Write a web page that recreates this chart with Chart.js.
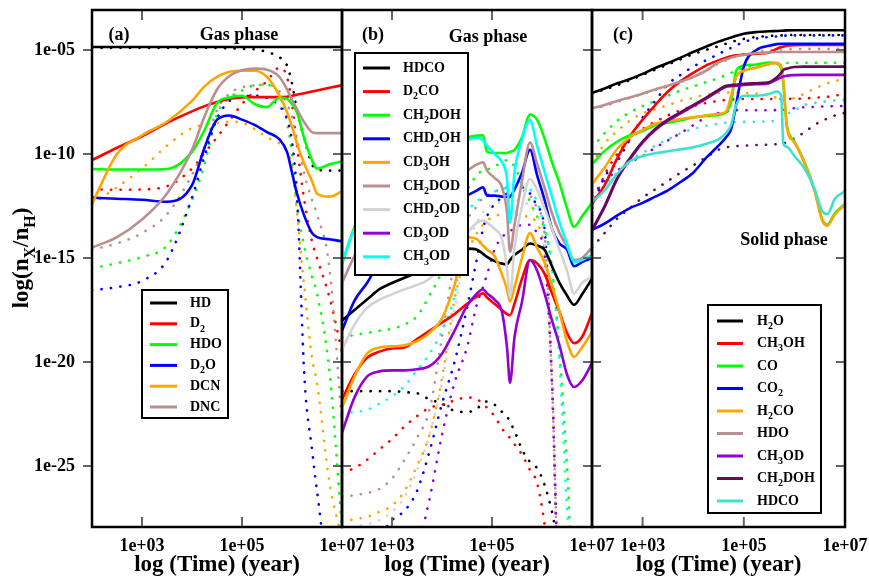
<!DOCTYPE html>
<html>
<head>
<meta charset="utf-8">
<script src="https://cdn.jsdelivr.net/npm/chart.js@4.4.0/dist/chart.umd.min.js"></script>
<style>
html, body { margin: 0; padding: 0; background: #fff; }
#wrap { position: relative; width: 869px; height: 579px; overflow: hidden; }
canvas { position: absolute; top: 0; }
</style>
</head>
<body>
<div id="wrap">
<canvas id="panelA" width="380" height="579" style="left:0px"></canvas>
<canvas id="panelB" width="330" height="579" style="left:300px"></canvas>
<canvas id="panelC" width="319" height="579" style="left:550px"></canvas>
</div>
<script>
var FONT = '"Liberation Serif", "Times New Roman", serif';

// log10(time) grids and log10(n_X/n_H) values
var xTicks = [3, 5, 7];
var yTicks = [-25, -20, -15, -10, -5];

// (a) gas phase
var timeA = [2, 2.5, 3, 3.5, 4, 4.25, 4.5, 4.75, 5, 5.25, 5.5, 5.75, 5.9, 6, 6.1, 6.25, 6.4, 6.5, 6.75, 7];
var namesA = ['HD', 'D_2', 'HDO', 'D_2O', 'DCN', 'DNC'];
var hdA = [-4.86, -4.86, -4.86, -4.86, -4.86, -4.86, -4.86, -4.86, -4.86, -4.86, -4.86, -4.86, -4.86, -4.86, -4.86, -4.86, -4.86, -4.86, -4.86, -4.86];
var hdA_dot = [-4.9, -4.9, -4.9, -4.9, -4.9, -4.9, -4.9, -4.92, -4.95, -4.97, -5.1, -5.35, -5.75, -6.6, -7.9, -9.3, -10.5, -10.75, -10.8, -10.8];
var d2A = [-10.3, -9.7, -9.15, -8.5, -7.95, -7.7, -7.5, -7.35, -7.28, -7.27, -7.27, -7.27, -7.25, -7.2, -7.15, -7.08, -7.0, -6.95, -6.82, -6.7];
var d2A_dot = [-11.7, -11.72, -11.7, -11.55, -10.7, -9.95, -9.2, -8.4, -7.6, -7.0, -6.5, -5.85, -6.3, -7.6, -9.6, -12.3, -14.2, -15.0, -16.9, -19.5];
var hdoA = [-10.72, -10.75, -10.75, -10.72, -9.9, -8.85, -7.55, -7.28, -7.2, -7.6, -7.75, -7.3, -7.35, -7.6, -8.0, -9.3, -10.3, -10.7, -10.5, -10.35];
var hdoA_dot = [-15.5, -15.25, -14.95, -14.4, -12.2, -10.5, -8.1, -7.3, -6.95, -6.7, -6.68, -7.2, -8.5, -10.0, -12.5, -14.5, -15.9, -16.7, -20.5, -28];
var d2oA = [-12.1, -12.15, -12.2, -12.3, -11.5, -9.7, -8.35, -8.15, -8.35, -8.6, -8.95, -9.3, -9.9, -10.9, -11.9, -13.0, -13.8, -14.0, -14.1, -14.2];
var d2oA_dot = [-16.55, -16.4, -16.1, -15.1, -12.1, -10.1, -8.3, -7.45, -7.25, -7.2, -7.3, -7.7, -8.3, -9.4, -12.0, -20.8, -24.2, -26.2, -30, -30];
var dcnA = [-12.4, -10.0, -9.1, -8.45, -7.45, -6.75, -6.3, -6.05, -6.0, -6.0, -6.3, -7.2, -8.0, -8.7, -9.5, -10.5, -11.3, -11.9, -12.05, -11.8];
var dcnA_dot = [-12.4, -11.6, -10.7, -9.6, -8.75, -8.6, -8.5, -8.45, -8.5, -8.8, -9.2, -9.5, -9.9, -10.6, -12.8, -16.5, -19.8, -21.0, -25.8, -28.5];
var dncA = [-14.5, -14.0, -13.15, -11.9, -9.8, -8.2, -6.9, -6.25, -5.98, -5.9, -5.95, -6.3, -6.9, -7.4, -7.85, -8.5, -8.95, -9.0, -9.0, -9.0];
var dncA_dot = [-14.6, -14.3, -13.8, -12.9, -11.0, -9.7, -7.9, -7.1, -6.8, -6.7, -6.65, -7.0, -7.6, -8.2, -9.3, -11.0, -12.2, -12.9, -15.5, -23];

// (b) gas phase
var timeB = [2, 2.25, 2.5, 2.75, 3, 3.25, 3.5, 3.75, 4, 4.25, 4.5, 4.7, 4.82, 4.9, 5.05, 5.2, 5.3, 5.36, 5.45, 5.6, 5.76, 5.9, 6.05, 6.2, 6.35, 6.5, 6.64, 6.8, 7];
var namesB = ['HDCO', 'D_2CO', 'CH_2DOH', 'CHD_2OH', 'CD_3OH', 'CH_2DOD', 'CHD_2OD', 'CD_3OD', 'CH_3OD'];
var hdcoB = [-18.0, -17.5, -17.0, -16.5, -16.2, -15.95, -15.7, -15.4, -15.05, -14.8, -14.55, -14.6, -14.8, -14.95, -15.15, -15.27, -15.3, -15.1, -14.85, -14.6, -14.3, -14.4, -14.6, -15.4, -16.2, -16.8, -17.25, -16.75, -16.0];
var hdcoB_dot = [-21.4, -21.4, -21.4, -21.4, -21.4, -21.45, -21.5, -21.8, -22.0, -22.35, -22.4, -22.25, -21.95, -21.9, -22.05, -22.4, -22.6, -22.9, -23.3, -24.2, -24.8, -25.1, -25.9, -27.2, -29, -30, -30, -30, -30];
var d2coB = [-21.8, -20.6, -19.8, -19.5, -19.35, -19.3, -18.9, -18.5, -18.1, -17.7, -17.2, -16.85, -16.7, -16.9, -17.2, -17.5, -17.7, -17.75, -17.2, -16.0, -15.1, -15.25, -15.75, -16.7, -17.6, -18.6, -19.1, -18.8, -17.65];
var d2coB_dot = [-25.3, -25.1, -24.7, -24.2, -23.7, -23.1, -22.6, -22.2, -22.05, -21.85, -21.7, -21.8, -22.0, -22.2, -22.6, -23.2, -23.5, -23.65, -23.95, -24.45, -25.2, -25.8, -27.8, -31, -31, -31, -31, -31, -31];
var ch2dohB = [-15.3, -13.5, -12.3, -11.5, -10.9, -10.4, -10.0, -9.7, -9.5, -9.35, -9.2, -9.12, -9.1, -9.9, -9.95, -9.95, -9.95, -9.9, -9.8, -9.2, -8.1, -8.35, -9.25, -10.4, -11.4, -12.6, -13.5, -13.0, -12.35];
var ch2dohB_dot = [-18.8, -18.7, -18.6, -18.5, -18.4, -18.2, -17.8, -16.8, -15.6, -13.5, -11.8, -11.0, -10.8, -10.75, -10.6, -10.4, -10.3, -10.35, -10.6, -11.4, -12.3, -13.0, -13.6, -15.5, -19.5, -25, -31, -31, -31];
var chd2ohB = [-18.5, -17.05, -16.2, -15.2, -14.8, -14.2, -13.7, -13.2, -12.8, -12.4, -12.0, -11.75, -11.6, -12.0, -12.0, -12.05, -12.07, -12.05, -11.7, -10.9, -9.8, -11.0, -12.2, -13.6, -14.3, -14.6, -15.4, -15.2, -15.0];
var chd2ohB_dot = [-31, -31, -30, -28.5, -27.6, -27.15, -26.2, -24.3, -22.0, -20.0, -17.4, -15.0, -13.6, -13.0, -12.4, -12.1, -11.9, -11.8, -11.6, -11.6, -11.9, -12.5, -13.6, -21, -31, -31, -31, -31, -31];
var cd3ohB = [-22.2, -20.7, -19.6, -19.3, -19.25, -19.2, -19.0, -18.6, -17.9, -16.3, -14.0, -14.1, -14.4, -14.6, -14.9, -15.8, -16.5, -17.1, -16.4, -15.0, -13.8, -14.5, -15.2, -16.3, -17.6, -19.0, -19.75, -19.3, -18.55];
var cd3ohB_dot = [-27.7, -27.55, -27.45, -27.2, -26.9, -26.2, -25.0, -23.5, -20.8, -17.0, -14.8, -13.8, -13.4, -13.2, -13.0, -12.9, -12.9, -12.9, -12.9, -13.0, -13.0, -13.4, -14.6, -21, -31, -31, -31, -31, -31];
var ch2dodB = [-16.2, -14.9, -13.9, -13.2, -12.7, -12.3, -11.9, -11.6, -11.4, -11.1, -10.8, -10.5, -10.4, -10.8, -11.15, -11.6, -12.8, -14.7, -13.4, -11.3, -9.45, -10.45, -11.6, -12.85, -13.8, -14.45, -15.1, -15.0, -14.5];
var ch2dodB_dot = [-26.5, -26.4, -26.3, -26.1, -25.6, -24.7, -23.65, -22.3, -18.8, -15.2, -13.2, -12.5, -12.1, -12.0, -11.8, -11.7, -11.6, -11.6, -11.6, -11.7, -12.0, -12.6, -13.8, -21, -31, -31, -31, -31, -31];
var chd2odB = [-19.4, -18.2, -17.4, -17.0, -16.75, -16.5, -16.3, -16.0, -15.3, -14.4, -13.8, -13.3, -13.2, -13.3, -13.6, -14.1, -15.5, -16.9, -14.5, -12.5, -11.2, -11.7, -12.6, -13.6, -14.6, -15.6, -16.7, -16.2, -15.9];
var chd2odB_dot = [-28, -27.9, -27.8, -27.6, -27.2, -26.5, -25.2, -23.5, -21.0, -17.5, -14.5, -13.3, -12.8, -12.6, -12.4, -12.3, -12.2, -12.2, -12.2, -12.3, -12.5, -13.0, -14.2, -21, -31, -31, -31, -31, -31];
var cd3odB = [-23.4, -21.7, -20.7, -20.45, -20.4, -20.4, -20.35, -20.2, -19.6, -18.5, -17.3, -16.7, -16.5, -16.7, -17.0, -17.6, -19.3, -21.0, -18.8, -17.1, -15.1, -15.6, -16.7, -18.0, -19.2, -20.6, -21.2, -20.9, -20.05];
var cd3odB_dot = [-31, -31, -31, -31, -31, -30.5, -29, -26.6, -23.5, -21.0, -19.3, -17.2, -16.4, -15.8, -14.6, -14.0, -13.8, -13.7, -13.6, -13.4, -13.4, -13.8, -14.8, -21, -31, -31, -31, -31, -31];
var ch3odB = [-15.2, -13.6, -12.5, -11.7, -11.1, -10.6, -10.2, -9.9, -9.7, -9.5, -9.35, -9.22, -9.35, -9.6, -10.0, -10.4, -11.2, -13.3, -10.9, -9.3, -8.37, -9.6, -10.85, -12.05, -13.3, -14.3, -15.2, -15.1, -14.85];
var ch3odB_dot = [-22.45, -22.4, -22.3, -22.0, -21.65, -21.15, -20.4, -19.6, -18.5, -16.8, -13.0, -12.3, -12.0, -11.9, -11.8, -11.7, -11.6, -11.5, -11.5, -11.55, -11.7, -12.3, -13.5, -15.5, -20, -27, -31, -31, -31];

// (c) solid phase
var timeC = [2, 2.25, 2.5, 2.75, 3, 3.25, 3.5, 3.75, 4, 4.25, 4.5, 4.65, 4.75, 4.85, 5, 5.25, 5.5, 5.65, 5.74, 5.78, 5.85, 6, 6.2, 6.4, 6.55, 6.65, 6.8, 7];
var namesC = ['H_2O', 'CH_3OH', 'CO', 'CO_2', 'H_2CO', 'HDO', 'CH_3OD', 'CH_2DOH', 'HDCO'];
var h2oC = [-7.07, -6.85, -6.6, -6.4, -6.15, -5.87, -5.63, -5.37, -5.1, -4.85, -4.6, -4.48, -4.4, -4.32, -4.22, -4.14, -4.1, -4.09, -4.08, -4.07, -4.06, -4.05, -4.05, -4.05, -4.05, -4.05, -4.05, -4.05];
var h2oC_dot = [-7.1, -6.9, -6.7, -6.45, -6.2, -5.95, -5.7, -5.45, -5.2, -5.0, -4.82, -4.7, -4.62, -4.55, -4.47, -4.38, -4.33, -4.3, -4.3, -4.3, -4.29, -4.28, -4.28, -4.28, -4.28, -4.28, -4.28, -4.28];
var ch3ohC = [-12.4, -11.5, -10.2, -9.15, -8.35, -7.65, -7.0, -6.5, -6.1, -5.75, -5.5, -5.37, -5.3, -5.26, -5.22, -5.18, -5.12, -4.95, -4.86, -4.84, -4.8, -4.77, -4.76, -4.76, -4.76, -4.76, -4.76, -4.76];
var ch3ohC_dot = [-12.5, -11.0, -10.0, -9.3, -8.8, -8.45, -8.15, -7.9, -7.7, -7.55, -7.45, -7.4, -7.38, -7.37, -7.36, -7.36, -7.36, -7.36, -7.36, -7.36, -7.35, -7.35, -7.33, -7.3, -7.27, -7.25, -7.2, -7.1];
var coC = [-10.5, -9.85, -9.4, -9.1, -8.9, -8.62, -8.5, -8.38, -8.25, -8.17, -8.12, -8.0, -7.5, -6.0, -5.75, -5.7, -5.6, -5.65, -5.9, -6.6, -8.6, -9.4, -10.4, -11.75, -13.15, -13.4, -12.85, -12.4];
var coC_dot = [-9.7, -9.0, -8.4, -8.0, -7.7, -7.45, -7.2, -6.95, -6.75, -6.55, -6.35, -6.2, -6.1, -6.0, -5.85, -5.75, -5.7, -5.66, -5.65, -5.64, -5.63, -5.62, -5.62, -5.62, -5.62, -5.62, -5.62, -5.62];
var co2C = [-13.65, -13.35, -12.95, -12.6, -12.35, -12.05, -11.75, -11.35, -10.9, -10.2, -9.6, -9.2, -8.8, -7.6, -5.8, -5.0, -4.8, -4.72, -4.7, -4.7, -4.7, -4.7, -4.7, -4.7, -4.7, -4.7, -4.7, -4.7];
var co2C_dot = [-12.6, -11.1, -10.35, -9.3, -8.25, -7.45, -6.65, -6.2, -5.8, -5.5, -5.2, -5.0, -4.9, -4.78, -4.62, -4.45, -4.38, -4.35, -4.33, -4.32, -4.31, -4.3, -4.3, -4.3, -4.3, -4.3, -4.3, -4.3];
var h2coC = [-11.45, -10.65, -9.75, -9.2, -8.85, -8.55, -8.42, -8.32, -8.24, -8.15, -8.08, -7.95, -7.2, -6.3, -6.0, -5.85, -5.68, -5.62, -5.8, -6.4, -8.7, -9.45, -10.45, -11.8, -13.2, -13.45, -12.9, -12.45];
var h2coC_dot = [-10.5, -9.5, -8.9, -8.4, -8.05, -7.85, -7.65, -7.45, -7.3, -7.15, -7.07, -7.05, -7.05, -7.05, -7.07, -7.1, -7.2, -7.3, -7.4, -7.42, -7.4, -7.3, -7.1, -6.85, -6.7, -6.6, -6.5, -6.35];
var hdoC = [-7.8, -7.65, -7.45, -7.28, -7.1, -6.9, -6.72, -6.52, -6.3, -6.0, -5.6, -5.45, -5.37, -5.3, -5.24, -5.15, -5.12, -5.1, -5.1, -5.1, -5.1, -5.1, -5.1, -5.1, -5.1, -5.1, -5.1, -5.1];
var hdoC_dot = [-7.85, -7.7, -7.5, -7.3, -7.12, -6.93, -6.75, -6.55, -6.3, -6.0, -5.65, -5.5, -5.4, -5.3, -5.2, -5.1, -5.02, -5.0, -4.98, -4.98, -4.97, -4.96, -4.95, -4.95, -4.95, -4.95, -4.95, -4.95];
var ch3odC = [-13.7, -12.55, -11.2, -10.25, -9.45, -8.85, -8.4, -8.05, -7.7, -7.35, -6.97, -6.77, -6.74, -6.72, -6.68, -6.65, -6.6, -6.42, -6.32, -6.28, -6.24, -6.21, -6.2, -6.2, -6.2, -6.2, -6.2, -6.2];
var ch3odC_dot = [-12.0, -11.3, -10.8, -10.4, -10.1, -9.7, -9.35, -9.0, -8.62, -8.25, -8.03, -7.97, -7.93, -7.9, -7.9, -7.9, -7.9, -7.89, -7.88, -7.88, -7.86, -7.8, -7.75, -7.74, -7.72, -7.72, -7.7, -7.7];
var ch2dohC = [-13.65, -12.5, -11.15, -10.2, -9.4, -8.8, -8.35, -8.0, -7.65, -7.3, -6.92, -6.72, -6.69, -6.67, -6.63, -6.6, -6.55, -6.32, -6.1, -5.96, -5.9, -5.82, -5.8, -5.8, -5.8, -5.8, -5.8, -5.8];
var ch2dohC_dot = [-14.5, -13.8, -13.1, -12.6, -12.1, -11.7, -11.3, -10.9, -10.55, -10.17, -9.8, -9.68, -9.65, -9.62, -9.6, -9.57, -9.55, -9.53, -9.52, -9.5, -9.42, -9.25, -8.95, -8.6, -8.4, -8.3, -8.15, -8.02];
var hdcoC = [-12.3, -11.75, -10.95, -10.35, -10.1, -9.97, -9.87, -9.78, -9.68, -9.52, -9.3, -9.0, -8.6, -7.65, -7.2, -7.2, -7.12, -7.0, -7.2, -9.5, -9.65, -10.1, -10.7, -11.7, -12.75, -12.9, -12.15, -11.8];
var hdcoC_dot = [-12.4, -11.5, -10.9, -10.3, -9.95, -9.6, -9.3, -9.0, -8.8, -8.65, -8.55, -8.5, -8.48, -8.47, -8.46, -8.45, -8.43, -8.4, -8.35, -8.3, -8.1, -7.9, -7.65, -7.55, -7.5, -7.47, -7.43, -7.4];

var colorsA = ['#000000', '#ff0000', '#00ff00', '#0000ff', '#ffa500', '#bc8f8f'];
var colorsB = ['#000000', '#ff0000', '#00ff00', '#0000ff', '#ffa500', '#bc8f8f', '#d3d3d3', '#9400d3', '#00ffff'];
var colorsC = ['#000000', '#ff0000', '#00ff00', '#0000ff', '#ffa500', '#bc8f8f', '#9400d3', '#660a55', '#40e0d0'];

function sci(v) {
    var a = Math.abs(v);
    return '1e' + (v < 0 ? '-' : '+') + (a < 10 ? '0' : '') + a;
}

// text with "_x" meaning subscript x
function richText(ctx, str, x, y, size, align) {
    var parts = [];
    for (var i = 0; i < str.length; i++) {
        if (str[i] === '_') { parts.push({ t: str[i + 1], sub: true }); i++; }
        else if (parts.length && !parts[parts.length - 1].sub) parts[parts.length - 1].t += str[i];
        else parts.push({ t: str[i], sub: false });
    }
    var subSize = Math.round(size * 0.68);
    var w = 0;
    parts.forEach(function (p) {
        ctx.font = 'bold ' + (p.sub ? subSize : size) + 'px ' + FONT;
        p.w = ctx.measureText(p.t).width;
        w += p.w;
    });
    var cx = align === 'center' ? x - w / 2 : x;
    ctx.textBaseline = 'middle';
    ctx.textAlign = 'left';
    ctx.fillStyle = '#000';
    parts.forEach(function (p) {
        ctx.font = 'bold ' + (p.sub ? subSize : size) + 'px ' + FONT;
        ctx.fillText(p.t, cx, p.sub ? y + size * 0.38 : y);
        cx += p.w;
    });
}

function makeDeco(d) {
    return {
        id: 'deco',
        afterDraw: function (chart) {
            var ctx = chart.ctx, a = chart.chartArea, xs = chart.scales.x, ys = chart.scales.y;
            ctx.save();
            ctx.setLineDash([]);
            ctx.strokeStyle = '#666';
            ctx.lineWidth = 2;
            ctx.beginPath();
            [3, 5].forEach(function (v) {
                var px = xs.getPixelForValue(v);
                ctx.moveTo(px, a.bottom); ctx.lineTo(px, a.bottom - 10);
                ctx.moveTo(px, a.top); ctx.lineTo(px, a.top + 10);
            });
            yTicks.forEach(function (v) {
                var py = ys.getPixelForValue(v);
                ctx.moveTo(a.right, py); ctx.lineTo(a.right - 9, py);
                ctx.moveTo(a.left, py); ctx.lineTo(d.outLeft ? a.left - 9 : a.left + 9, py);
            });
            ctx.stroke();
            ctx.strokeStyle = '#000';
            ctx.lineWidth = 2.5;
            ctx.strokeRect(a.left, a.top, a.right - a.left, a.bottom - a.top);

            richText(ctx, d.tag[0], d.tag[1], d.tag[2], 18, 'center');
            richText(ctx, d.head[0], d.head[1], d.head[2], 18, 'center');

            var L = d.legend;
            ctx.fillStyle = '#fff';
            ctx.fillRect(L.x, L.y, L.w, L.h);
            ctx.strokeStyle = '#000';
            ctx.lineWidth = 2;
            ctx.strokeRect(L.x, L.y, L.w, L.h);
            for (var i = 0; i < d.names.length; i++) {
                var ry = L.row0 + i * L.step;
                ctx.strokeStyle = d.colors[i];
                ctx.lineWidth = 3;
                ctx.beginPath(); ctx.moveTo(L.line0, ry); ctx.lineTo(L.line1, ry); ctx.stroke();
                richText(ctx, d.names[i], L.text, ry, 14, 'left');
            }

            if (d.yTitle) {
                ctx.translate(22, 258);
                ctx.rotate(-Math.PI / 2);
                richText(ctx, 'log(n_X/n_H)', 0, 0, 23, 'center');
            }
            ctx.restore();
        }
    };
}

function makeSets(t, solids, dots, colors) {
    var sets = [];
    for (var i = 0; i < solids.length; i++) {
        sets.push({
            data: t.map(function (x, k) { return { x: x, y: dots[i][k] }; }),
            borderColor: colors[i], borderWidth: 2.6, borderDash: [0.2, 9.3], borderCapStyle: 'round', order: -i
        });
        sets.push({
            data: t.map(function (x, k) { return { x: x, y: solids[i][k] }; }),
            borderColor: colors[i], borderWidth: 2.6, order: -100 - i
        });
    }
    return sets;
}

function makeChart(id, t, solids, dots, colors, deco, pad, showY) {
    new Chart(document.getElementById(id), {
        type: 'line',
        data: { datasets: makeSets(t, solids, dots, colors) },
        options: {
            responsive: false,
            animation: false,
            events: [],
            layout: { padding: pad, autoPadding: false },
            plugins: { legend: { display: false }, tooltip: { enabled: false } },
            elements: { point: { radius: 0 }, line: { cubicInterpolationMode: 'monotone', fill: false } },
            scales: {
                x: {
                    type: 'linear', min: 2, max: 7,
                    afterBuildTicks: function (s) { s.ticks = xTicks.map(function (v) { return { value: v }; }); },
                    afterFit: function (s) { s.height = 52; s.paddingLeft = 0; s.paddingRight = 0; },
                    grid: { display: false }, border: { display: false },
                    ticks: { callback: sci, color: '#000', padding: 1, maxRotation: 0, autoSkip: false,
                        font: { family: FONT, size: 18, weight: 'bold' } },
                    title: { display: true, text: 'log (Time) (year)', color: '#000', padding: { top: 0, bottom: 0 },
                        font: { family: FONT, size: 23, weight: 'bold' } }
                },
                y: {
                    type: 'linear', min: -27.93, max: -3.08, display: showY,
                    afterBuildTicks: function (s) { s.ticks = yTicks.map(function (v) { return { value: v }; }); },
                    afterFit: function (s) {
                        s.width = showY ? 92 : 0;
                        s.paddingTop = 0; s.paddingBottom = 0;
                    },
                    grid: { display: false }, border: { display: false },
                    ticks: { callback: sci, color: '#000', padding: 9,
                        font: { family: FONT, size: 18, weight: 'bold' } }
                }
            }
        },
        plugins: [makeDeco(deco)]
    });
}

makeChart('panelA', timeA,
    [hdA, d2A, hdoA, d2oA, dcnA, dncA],
    [hdA_dot, d2A_dot, hdoA_dot, d2oA_dot, dcnA_dot, dncA_dot],
    colorsA,
    { names: namesA, colors: colorsA, outLeft: true, yTitle: true,
      tag: ['(a)', 119, 35], head: ['Gas phase', 239, 35],
      legend: { x: 142, y: 290, w: 86, h: 128, row0: 303, step: 20.8, line0: 150, line1: 177, text: 190 } },
    { top: 10, right: 38, bottom: 0, left: 0 }, true);

makeChart('panelB', timeB,
    [hdcoB, d2coB, ch2dohB, chd2ohB, cd3ohB, ch2dodB, chd2odB, cd3odB, ch3odB],
    [hdcoB_dot, d2coB_dot, ch2dohB_dot, chd2ohB_dot, cd3ohB_dot, ch2dodB_dot, chd2odB_dot, cd3odB_dot, ch3odB_dot],
    colorsB,
    { names: namesB, colors: colorsB, outLeft: false, yTitle: false,
      tag: ['(b)', 73, 35], head: ['Gas phase', 188, 37],
      legend: { x: 55, y: 53, w: 113, h: 222, row0: 68, step: 23.6, line0: 63, line1: 90, text: 103 } },
    { top: 10, right: 38, bottom: 0, left: 42 }, false);

makeChart('panelC', timeC,
    [h2oC, ch3ohC, coC, co2C, h2coC, hdoC, ch3odC, ch2dohC, hdcoC],
    [h2oC_dot, ch3ohC_dot, coC_dot, co2C_dot, h2coC_dot, hdoC_dot, ch3odC_dot, ch2dohC_dot, hdcoC_dot],
    colorsC,
    { names: namesC, colors: colorsC, outLeft: false, yTitle: false,
      tag: ['(c)', 73, 35], head: ['Solid phase', 234, 240],
      legend: { x: 158, y: 305, w: 113, h: 208, row0: 321, step: 22.5, line0: 167, line1: 193, text: 207 } },
    { top: 10, right: 24, bottom: 0, left: 42 }, false);
</script>
</body>
</html>
